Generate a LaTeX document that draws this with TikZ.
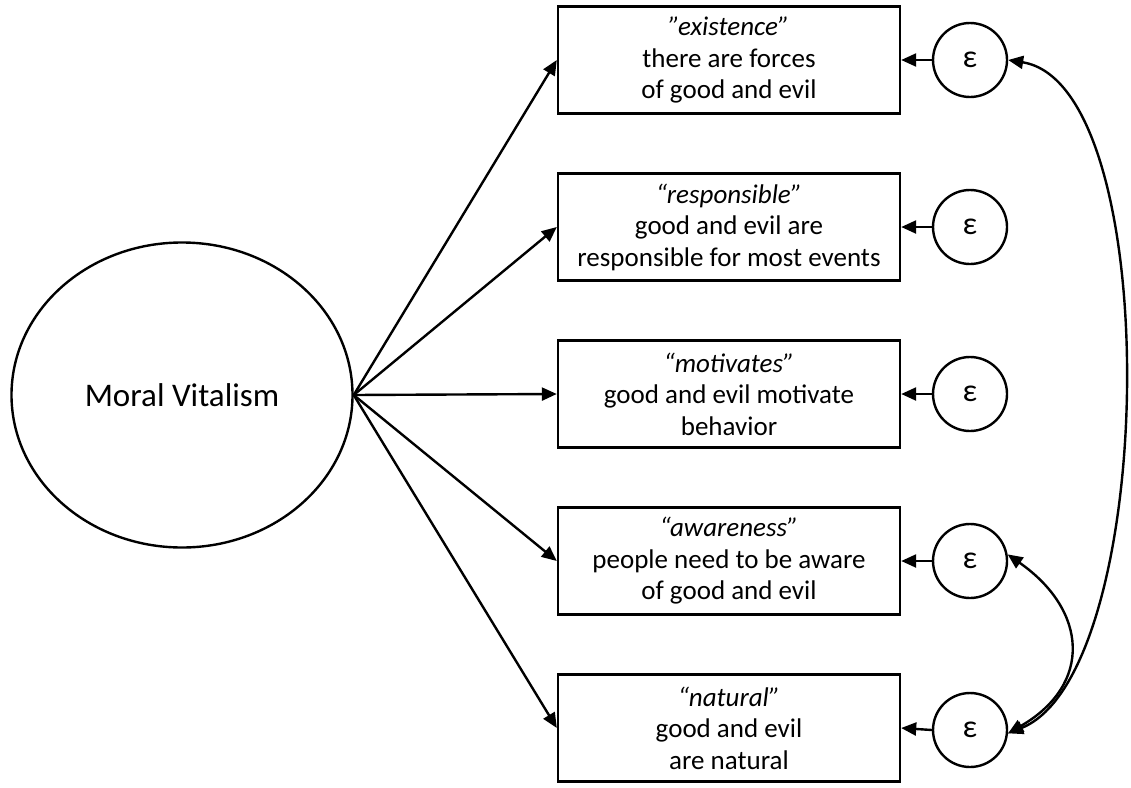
\documentclass[tikz,border=0pt]{standalone}
\usepackage{fontspec}
\setmainfont{Carlito}
\usetikzlibrary{shapes.geometric,arrows.meta}
\begin{document}
\begin{tikzpicture}[x=1pt,y=-1pt, line width=2.4pt,
 box/.style={draw, rectangle, minimum width=342pt, minimum height=107pt, inner sep=0pt, align=center, font=\fontsize{27}{31.5}\selectfont},
 err/.style={draw, circle, minimum size=74pt, inner sep=0pt, font=\fontsize{32}{34}\selectfont},
 arr/.style={-{Triangle[length=15pt,width=13pt]}},
 barr/.style={{Triangle[length=15pt,width=13pt]}-{Triangle[length=15pt,width=13pt]}}]
\useasboundingbox (0,0) rectangle (1131,787);
\node[draw, ellipse, minimum width=341pt, minimum height=305pt, inner sep=0pt, font=\fontsize{33}{36}\selectfont] (mv) at (182,395) {Moral Vitalism};
\node[box] (b1) at (729,60) {\textit{”existence”}\\there are forces\\of good and evil};
\node[box] (b2) at (729,227) {\textit{“responsible”}\\good and evil are\\responsible for most events};
\node[box] (b3) at (729,394) {\textit{“motivates”}\\good and evil motivate\\behavior};
\node[box] (b4) at (729,561) {\textit{“awareness”}\\people need to be aware\\of good and evil};
\node[box] (b5) at (729,728) {\textit{“natural”}\\good and evil\\are natural};
\node[err] (e1) at (970,60) {ε};
\node[err] (e2) at (970,227) {ε};
\node[err] (e3) at (970,394) {ε};
\node[err] (e4) at (970,561) {ε};
\node[err] (e5) at (970,730) {ε};
\foreach \i in {1,...,5}{
  \draw[arr] (mv.east) -- (b\i.west);
  \draw[arr] (e\i.west) -- (b\i.east);
}
\draw[barr] (e1.east) .. controls +(158,25) and +(150,-60) .. (e5.-5);
\draw[barr] (e4.10) .. controls +(80,56) and +(85,-49) .. (e5.-5);
\end{tikzpicture}
\end{document}
